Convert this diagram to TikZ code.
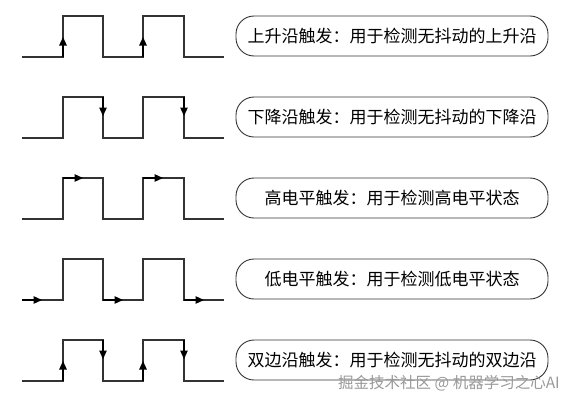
\documentclass[tikz,border=0pt]{standalone}
\usepackage{fontspec}
\newfontfamily\cjk{Noto Sans CJK SC}
\usetikzlibrary{arrows.meta}
\begin{document}
\begin{tikzpicture}[x=1pt,y=-1pt,
  wave/.style={draw=black!80, line width=1.2pt},
  arr/.style={-{Triangle[length=8.5pt,width=7.5pt]}, line width=1.2pt, draw=black},
  lbl/.style={draw=black!80, line width=0.9pt, rounded corners=18pt,
    minimum width=312pt, minimum height=40pt, inner sep=0pt,
    font=\cjk\fontsize{17}{20}\selectfont},
  wm/.style={text=black!40, font=\cjk\fontsize{15.5}{18}\selectfont, inner sep=0pt}
]
\useasboundingbox (0,0) rectangle (575,402);

% waveforms
\foreach \i in {0,...,4}{
  \pgfmathsetmacro{\L}{57+81*\i}
  \pgfmathsetmacro{\H}{16+81*\i}
  \draw[wave] (22,\L) -- (63,\L) -- (63,\H) -- (103,\H) -- (103,\L) -- (143,\L)
     -- (143,\H) -- (184,\H) -- (184,\L) -- (224,\L);
}

% row 1: rising edges
\draw[arr] (63,57) -- (63,37);
\draw[arr] (143,57) -- (143,37);
% row 2: falling edges
\draw[arr] (103,97) -- (103,116);
\draw[arr] (184,97) -- (184,116);
% row 3: high level
\draw[arr] (63,178) -- (83,178);
\draw[arr] (143,178) -- (163,178);
% row 4: low level
\draw[arr] (22,300) -- (42,300);
\draw[arr] (103,300) -- (123,300);
\draw[arr] (184,300) -- (204,300);
% row 5: both edges
\draw[arr] (63,381) -- (63,361);
\draw[arr] (143,381) -- (143,361);
\draw[arr] (103,340) -- (103,359);
\draw[arr] (184,340) -- (184,359);

% labels
\node[lbl] (b1) at (392,36)  {上升沿触发：用于检测无抖动的上升沿};
\node[lbl] (b2) at (392,117) {下降沿触发：用于检测无抖动的下降沿};
\node[lbl] (b3) at (392,198) {高电平触发：用于检测高电平状态};
\node[lbl] (b4) at (392,279) {低电平触发：用于检测低电平状态};
\node[lbl] (b5) at (392,360) {双边沿触发：用于检测无抖动的双边沿};

% watermark
\node[wm, anchor=west] (wmk) at (338,383) {掘金技术社区 @ 机器学习之心AI};
\end{tikzpicture}
\end{document}
